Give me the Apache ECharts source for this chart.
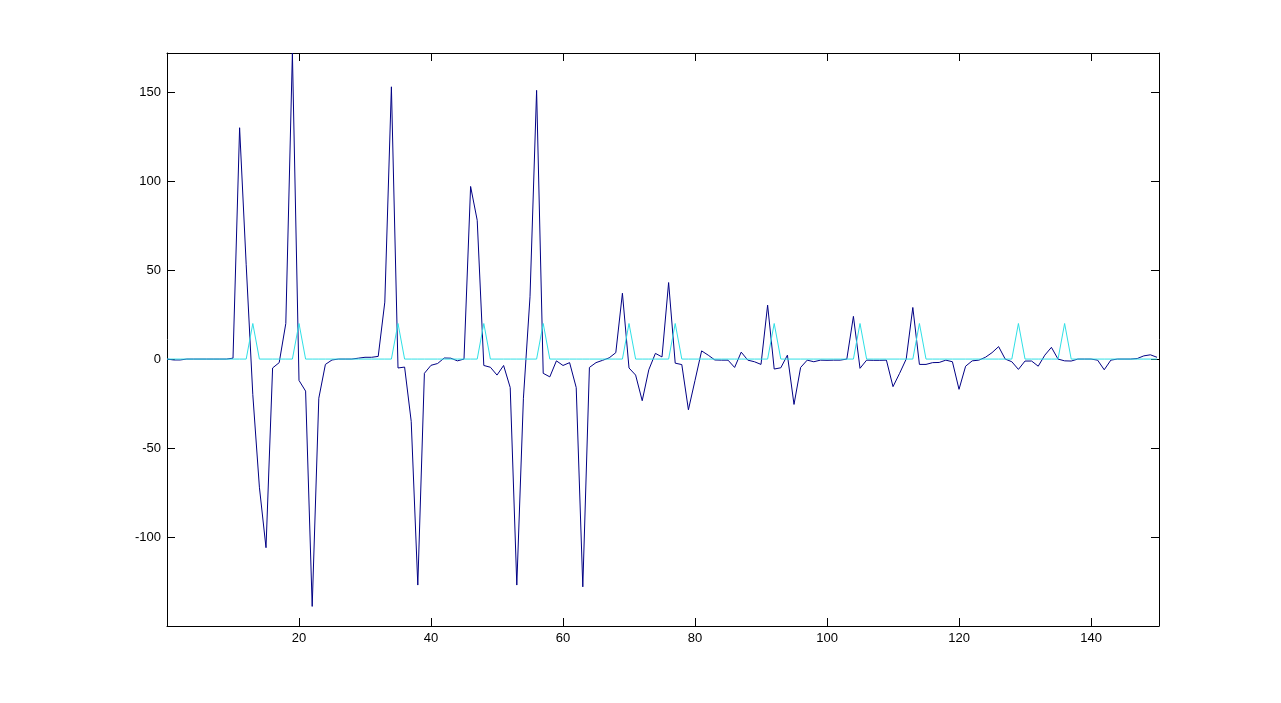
<!DOCTYPE html>
<html>
<head>
<meta charset="utf-8">
<script src="https://cdn.jsdelivr.net/npm/echarts/dist/echarts.min.js"></script>
<style>
html,body{margin:0;padding:0;background:#ffffff;}
#chart{width:1281px;height:703px;}
</style>
</head>
<body>
<div id="chart"></div>
<script>
// Sample index runs 0..150 (x axis)
const signal = [
  0, -0.5, -0.5, 0, 0, 0, 0, 0, 0, 0,
  0.5, 130, 53, -20, -72, -106, -5, -2, 20, 172,
  -12, -18, -139, -22, -3, -0.5, 0, 0, 0, 0.5,
  1, 1, 1.5, 32, 153, -5, -4.5, -35, -127, -8,
  -3.5, -2.5, 0.6, 0.5, -1, 0, 97, 78, -3.6, -4.6,
  -9, -3.6, -16, -127, -22, 35, 151, -8, -10, -1,
  -3.6, -2, -16, -128, -4.7, -2, -0.7, 0.7, 3.6, 37,
  -5, -9, -23.4, -6, 3.2, 1.2, 43, -2.3, -3.1, -28.5,
  -12, 4.6, 2.2, -0.5, -0.6, -0.6, -4.7, 3.9, -0.6, -1.5,
  -3, 30.3, -5.6, -4.9, 2.2, -25.5, -4.7, -0.6, -1.5, -0.6,
  -0.7, -0.6, -0.6, 0, 24, -5.2, -0.6, -0.7, -0.7, -0.6,
  -15.5, -8, 0, 29, -3, -3, -2, -1.9, -0.6, -1.5,
  -17, -4, -1, -0.6, 1, 3.6, 7, 0, -1.5, -5.8,
  -1.1, -1.1, -4, 2.2, 6.6, 0, -1, -1.1, 0, 0,
  0, -0.6, -6, -0.6, 0, 0, 0, 0.3, 1.8, 2.4,
  1
];
const marker = [
  0, 0, 0, 0, 0, 0, 0, 0, 0, 0,
  0, 0, 0, 20, 0, 0, 0, 0, 0, 0,
  20, 0, 0, 0, 0, 0, 0, 0, 0, 0,
  0, 0, 0, 0, 0, 20, 0, 0, 0, 0,
  0, 0, 0, 0, 0, 0, 0, 0, 20, 0,
  0, 0, 0, 0, 0, 0, 0, 20, 0, 0,
  0, 0, 0, 0, 0, 0, 0, 0, 0, 0,
  20, 0, 0, 0, 0, 0, 0, 20, 0, 0,
  0, 0, 0, 0, 0, 0, 0, 0, 0, 0,
  0, 0, 20, 0, 0, 0, 0, 0, 0, 0,
  0, 0, 0, 0, 0, 20, 0, 0, 0, 0,
  0, 0, 0, 0, 20, 0, 0, 0, 0, 0,
  0, 0, 0, 0, 0, 0, 0, 0, 0, 20,
  0, 0, 0, 0, 0, 0, 20, 0, 0, 0,
  0, 0, 0, 0, 0, 0, 0, 0, 0, 0,
  0
];
const xRange = [0, 150.3];
const xStep = 20;
const yRange = [-150, 172];
const yStep = 50;

const signalColor = '#000084';
const markerColor = '#2fe0e6';

const toPairs = arr => arr.map((v, i) => [i, v]);

const axisLineStyle = { show: true, onZero: false, lineStyle: { color: '#000', width: 1 } };
const tickStyle = { show: true, inside: true, length: 8, lineStyle: { color: '#000', width: 1 } };
const labelStyle = {
  color: '#000', fontSize: 13, fontFamily: 'Liberation Sans, Arial, sans-serif',
  showMinLabel: false, showMaxLabel: false
};

const chart = echarts.init(document.getElementById('chart'), null, { renderer: 'canvas' });
chart.setOption({
  animation: false,
  backgroundColor: '#ffffff',
  grid: { left: 167, top: 53, right: 122, bottom: 77, containLabel: false, outerBoundsMode: 'none',
          show: true, borderWidth: 0, backgroundColor: '#ffffff' },
  xAxis: [
    { type: 'value', min: xRange[0], max: xRange[1], interval: xStep, position: 'bottom',
      axisLine: axisLineStyle, axisTick: tickStyle,
      axisLabel: Object.assign({ margin: 6 }, labelStyle),
      splitLine: { show: false } },
    { type: 'value', min: xRange[0], max: xRange[1], interval: xStep, position: 'top',
      axisLine: axisLineStyle, axisTick: tickStyle,
      axisLabel: { show: false }, splitLine: { show: false } }
  ],
  yAxis: [
    { type: 'value', min: yRange[0], max: yRange[1], interval: yStep, position: 'left',
      axisLine: axisLineStyle, axisTick: tickStyle,
      axisLabel: Object.assign({ margin: 6 }, labelStyle),
      splitLine: { show: false } },
    { type: 'value', min: yRange[0], max: yRange[1], interval: yStep, position: 'right',
      axisLine: axisLineStyle, axisTick: tickStyle,
      axisLabel: { show: false }, splitLine: { show: false } }
  ],
  series: [
    { type: 'line', name: 'signal', data: toPairs(signal), xAxisIndex: 0, yAxisIndex: 0,
      showSymbol: false, symbol: 'none', clip: true,
      lineStyle: { color: signalColor, width: 1 }, itemStyle: { color: signalColor } },
    { type: 'line', name: 'marker', data: toPairs(marker), xAxisIndex: 0, yAxisIndex: 0,
      showSymbol: false, symbol: 'none', clip: true,
      lineStyle: { color: markerColor, width: 1 }, itemStyle: { color: markerColor } }
  ]
});
</script>
</body>
</html>
